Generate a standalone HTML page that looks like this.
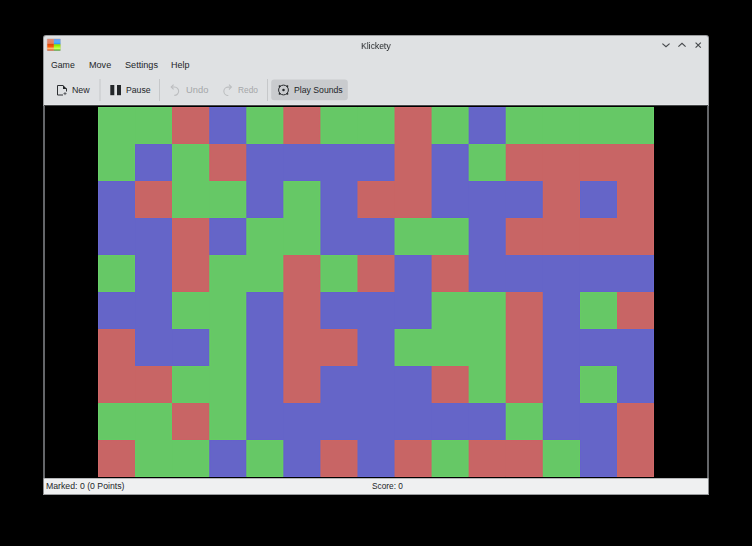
<!DOCTYPE html>
<html><head><meta charset="utf-8">
<style>
*{margin:0;padding:0;box-sizing:border-box}
html,body{width:752px;height:546px;background:#000;overflow:hidden;font-family:"Liberation Sans",sans-serif;color:#232629}
.a{position:absolute}
.t{position:absolute;font-size:9.6px;line-height:12px;white-space:nowrap;transform-origin:0 0}
.dis{color:#a5a7a9}
.gs{will-change:transform}
</style></head><body>
<!-- window frame -->
<div class="a" style="left:43px;top:35px;width:666px;height:460px;background:#9a9c9e;border-radius:3px 3px 0 0"></div>
<div class="a" style="left:44px;top:36px;width:664px;height:458px;background:#dfe1e3;border-radius:2px 2px 0 0"></div>
<div class="a" style="left:44px;top:104px;width:664px;height:1px;background:#e4e6e8"></div>
<div class="a" style="left:44px;top:105px;width:664px;height:1px;background:#464849"></div>
<!-- game area -->
<div class="a" style="left:43px;top:106px;width:2px;height:372px;background:#646669"></div>
<div class="a" style="left:707px;top:106px;width:2px;height:372px;background:#646669"></div>
<div class="a" style="left:45px;top:106px;width:662px;height:372px;background:#000"></div>
<!-- status -->
<div class="a" style="left:44px;top:478px;width:664px;height:1px;background:#b4b6b8"></div>
<div class="a" style="left:44px;top:479px;width:664px;height:15px;background:#eff0f1"></div>
<div class="a" style="left:43px;top:478px;width:1px;height:17px;background:#8a8c8e"></div>
<div class="a" style="left:708px;top:478px;width:1px;height:17px;background:#8a8c8e"></div>
<div class="a" style="left:43px;top:494px;width:666px;height:1px;background:#9a9c9e"></div>
<svg class="a" style="left:0;top:0" width="752" height="546" viewBox="0 0 752 546"><rect x="98.000" y="107.000" width="38.067" height="38.000" fill="#66c866"/><rect x="135.067" y="107.000" width="38.067" height="38.000" fill="#66c866"/><rect x="172.133" y="107.000" width="38.067" height="38.000" fill="#c86565"/><rect x="209.200" y="107.000" width="38.067" height="38.000" fill="#6565c8"/><rect x="246.267" y="107.000" width="38.067" height="38.000" fill="#66c866"/><rect x="283.333" y="107.000" width="38.067" height="38.000" fill="#c86565"/><rect x="320.400" y="107.000" width="38.067" height="38.000" fill="#66c866"/><rect x="357.467" y="107.000" width="38.067" height="38.000" fill="#66c866"/><rect x="394.533" y="107.000" width="38.067" height="38.000" fill="#c86565"/><rect x="431.600" y="107.000" width="38.067" height="38.000" fill="#66c866"/><rect x="468.667" y="107.000" width="38.067" height="38.000" fill="#6565c8"/><rect x="505.733" y="107.000" width="38.067" height="38.000" fill="#66c866"/><rect x="542.800" y="107.000" width="38.067" height="38.000" fill="#66c866"/><rect x="579.867" y="107.000" width="38.067" height="38.000" fill="#66c866"/><rect x="616.933" y="107.000" width="37.067" height="38.000" fill="#66c866"/><rect x="98.000" y="144.000" width="38.067" height="38.000" fill="#66c866"/><rect x="135.067" y="144.000" width="38.067" height="38.000" fill="#6565c8"/><rect x="172.133" y="144.000" width="38.067" height="38.000" fill="#66c866"/><rect x="209.200" y="144.000" width="38.067" height="38.000" fill="#c86565"/><rect x="246.267" y="144.000" width="38.067" height="38.000" fill="#6565c8"/><rect x="283.333" y="144.000" width="38.067" height="38.000" fill="#6565c8"/><rect x="320.400" y="144.000" width="38.067" height="38.000" fill="#6565c8"/><rect x="357.467" y="144.000" width="38.067" height="38.000" fill="#6565c8"/><rect x="394.533" y="144.000" width="38.067" height="38.000" fill="#c86565"/><rect x="431.600" y="144.000" width="38.067" height="38.000" fill="#6565c8"/><rect x="468.667" y="144.000" width="38.067" height="38.000" fill="#66c866"/><rect x="505.733" y="144.000" width="38.067" height="38.000" fill="#c86565"/><rect x="542.800" y="144.000" width="38.067" height="38.000" fill="#c86565"/><rect x="579.867" y="144.000" width="38.067" height="38.000" fill="#c86565"/><rect x="616.933" y="144.000" width="37.067" height="38.000" fill="#c86565"/><rect x="98.000" y="181.000" width="38.067" height="38.000" fill="#6565c8"/><rect x="135.067" y="181.000" width="38.067" height="38.000" fill="#c86565"/><rect x="172.133" y="181.000" width="38.067" height="38.000" fill="#66c866"/><rect x="209.200" y="181.000" width="38.067" height="38.000" fill="#66c866"/><rect x="246.267" y="181.000" width="38.067" height="38.000" fill="#6565c8"/><rect x="283.333" y="181.000" width="38.067" height="38.000" fill="#66c866"/><rect x="320.400" y="181.000" width="38.067" height="38.000" fill="#6565c8"/><rect x="357.467" y="181.000" width="38.067" height="38.000" fill="#c86565"/><rect x="394.533" y="181.000" width="38.067" height="38.000" fill="#c86565"/><rect x="431.600" y="181.000" width="38.067" height="38.000" fill="#6565c8"/><rect x="468.667" y="181.000" width="38.067" height="38.000" fill="#6565c8"/><rect x="505.733" y="181.000" width="38.067" height="38.000" fill="#6565c8"/><rect x="542.800" y="181.000" width="38.067" height="38.000" fill="#c86565"/><rect x="579.867" y="181.000" width="38.067" height="38.000" fill="#6565c8"/><rect x="616.933" y="181.000" width="37.067" height="38.000" fill="#c86565"/><rect x="98.000" y="218.000" width="38.067" height="38.000" fill="#6565c8"/><rect x="135.067" y="218.000" width="38.067" height="38.000" fill="#6565c8"/><rect x="172.133" y="218.000" width="38.067" height="38.000" fill="#c86565"/><rect x="209.200" y="218.000" width="38.067" height="38.000" fill="#6565c8"/><rect x="246.267" y="218.000" width="38.067" height="38.000" fill="#66c866"/><rect x="283.333" y="218.000" width="38.067" height="38.000" fill="#66c866"/><rect x="320.400" y="218.000" width="38.067" height="38.000" fill="#6565c8"/><rect x="357.467" y="218.000" width="38.067" height="38.000" fill="#6565c8"/><rect x="394.533" y="218.000" width="38.067" height="38.000" fill="#66c866"/><rect x="431.600" y="218.000" width="38.067" height="38.000" fill="#66c866"/><rect x="468.667" y="218.000" width="38.067" height="38.000" fill="#6565c8"/><rect x="505.733" y="218.000" width="38.067" height="38.000" fill="#c86565"/><rect x="542.800" y="218.000" width="38.067" height="38.000" fill="#c86565"/><rect x="579.867" y="218.000" width="38.067" height="38.000" fill="#c86565"/><rect x="616.933" y="218.000" width="37.067" height="38.000" fill="#c86565"/><rect x="98.000" y="255.000" width="38.067" height="38.000" fill="#66c866"/><rect x="135.067" y="255.000" width="38.067" height="38.000" fill="#6565c8"/><rect x="172.133" y="255.000" width="38.067" height="38.000" fill="#c86565"/><rect x="209.200" y="255.000" width="38.067" height="38.000" fill="#66c866"/><rect x="246.267" y="255.000" width="38.067" height="38.000" fill="#66c866"/><rect x="283.333" y="255.000" width="38.067" height="38.000" fill="#c86565"/><rect x="320.400" y="255.000" width="38.067" height="38.000" fill="#66c866"/><rect x="357.467" y="255.000" width="38.067" height="38.000" fill="#c86565"/><rect x="394.533" y="255.000" width="38.067" height="38.000" fill="#6565c8"/><rect x="431.600" y="255.000" width="38.067" height="38.000" fill="#c86565"/><rect x="468.667" y="255.000" width="38.067" height="38.000" fill="#6565c8"/><rect x="505.733" y="255.000" width="38.067" height="38.000" fill="#6565c8"/><rect x="542.800" y="255.000" width="38.067" height="38.000" fill="#6565c8"/><rect x="579.867" y="255.000" width="38.067" height="38.000" fill="#6565c8"/><rect x="616.933" y="255.000" width="37.067" height="38.000" fill="#6565c8"/><rect x="98.000" y="292.000" width="38.067" height="38.000" fill="#6565c8"/><rect x="135.067" y="292.000" width="38.067" height="38.000" fill="#6565c8"/><rect x="172.133" y="292.000" width="38.067" height="38.000" fill="#66c866"/><rect x="209.200" y="292.000" width="38.067" height="38.000" fill="#66c866"/><rect x="246.267" y="292.000" width="38.067" height="38.000" fill="#6565c8"/><rect x="283.333" y="292.000" width="38.067" height="38.000" fill="#c86565"/><rect x="320.400" y="292.000" width="38.067" height="38.000" fill="#6565c8"/><rect x="357.467" y="292.000" width="38.067" height="38.000" fill="#6565c8"/><rect x="394.533" y="292.000" width="38.067" height="38.000" fill="#6565c8"/><rect x="431.600" y="292.000" width="38.067" height="38.000" fill="#66c866"/><rect x="468.667" y="292.000" width="38.067" height="38.000" fill="#66c866"/><rect x="505.733" y="292.000" width="38.067" height="38.000" fill="#c86565"/><rect x="542.800" y="292.000" width="38.067" height="38.000" fill="#6565c8"/><rect x="579.867" y="292.000" width="38.067" height="38.000" fill="#66c866"/><rect x="616.933" y="292.000" width="37.067" height="38.000" fill="#c86565"/><rect x="98.000" y="329.000" width="38.067" height="38.000" fill="#c86565"/><rect x="135.067" y="329.000" width="38.067" height="38.000" fill="#6565c8"/><rect x="172.133" y="329.000" width="38.067" height="38.000" fill="#6565c8"/><rect x="209.200" y="329.000" width="38.067" height="38.000" fill="#66c866"/><rect x="246.267" y="329.000" width="38.067" height="38.000" fill="#6565c8"/><rect x="283.333" y="329.000" width="38.067" height="38.000" fill="#c86565"/><rect x="320.400" y="329.000" width="38.067" height="38.000" fill="#c86565"/><rect x="357.467" y="329.000" width="38.067" height="38.000" fill="#6565c8"/><rect x="394.533" y="329.000" width="38.067" height="38.000" fill="#66c866"/><rect x="431.600" y="329.000" width="38.067" height="38.000" fill="#66c866"/><rect x="468.667" y="329.000" width="38.067" height="38.000" fill="#66c866"/><rect x="505.733" y="329.000" width="38.067" height="38.000" fill="#c86565"/><rect x="542.800" y="329.000" width="38.067" height="38.000" fill="#6565c8"/><rect x="579.867" y="329.000" width="38.067" height="38.000" fill="#6565c8"/><rect x="616.933" y="329.000" width="37.067" height="38.000" fill="#6565c8"/><rect x="98.000" y="366.000" width="38.067" height="38.000" fill="#c86565"/><rect x="135.067" y="366.000" width="38.067" height="38.000" fill="#c86565"/><rect x="172.133" y="366.000" width="38.067" height="38.000" fill="#66c866"/><rect x="209.200" y="366.000" width="38.067" height="38.000" fill="#66c866"/><rect x="246.267" y="366.000" width="38.067" height="38.000" fill="#6565c8"/><rect x="283.333" y="366.000" width="38.067" height="38.000" fill="#c86565"/><rect x="320.400" y="366.000" width="38.067" height="38.000" fill="#6565c8"/><rect x="357.467" y="366.000" width="38.067" height="38.000" fill="#6565c8"/><rect x="394.533" y="366.000" width="38.067" height="38.000" fill="#6565c8"/><rect x="431.600" y="366.000" width="38.067" height="38.000" fill="#c86565"/><rect x="468.667" y="366.000" width="38.067" height="38.000" fill="#66c866"/><rect x="505.733" y="366.000" width="38.067" height="38.000" fill="#c86565"/><rect x="542.800" y="366.000" width="38.067" height="38.000" fill="#6565c8"/><rect x="579.867" y="366.000" width="38.067" height="38.000" fill="#66c866"/><rect x="616.933" y="366.000" width="37.067" height="38.000" fill="#6565c8"/><rect x="98.000" y="403.000" width="38.067" height="38.000" fill="#66c866"/><rect x="135.067" y="403.000" width="38.067" height="38.000" fill="#66c866"/><rect x="172.133" y="403.000" width="38.067" height="38.000" fill="#c86565"/><rect x="209.200" y="403.000" width="38.067" height="38.000" fill="#66c866"/><rect x="246.267" y="403.000" width="38.067" height="38.000" fill="#6565c8"/><rect x="283.333" y="403.000" width="38.067" height="38.000" fill="#6565c8"/><rect x="320.400" y="403.000" width="38.067" height="38.000" fill="#6565c8"/><rect x="357.467" y="403.000" width="38.067" height="38.000" fill="#6565c8"/><rect x="394.533" y="403.000" width="38.067" height="38.000" fill="#6565c8"/><rect x="431.600" y="403.000" width="38.067" height="38.000" fill="#6565c8"/><rect x="468.667" y="403.000" width="38.067" height="38.000" fill="#6565c8"/><rect x="505.733" y="403.000" width="38.067" height="38.000" fill="#66c866"/><rect x="542.800" y="403.000" width="38.067" height="38.000" fill="#6565c8"/><rect x="579.867" y="403.000" width="38.067" height="38.000" fill="#6565c8"/><rect x="616.933" y="403.000" width="37.067" height="38.000" fill="#c86565"/><rect x="98.000" y="440.000" width="38.067" height="37.000" fill="#c86565"/><rect x="135.067" y="440.000" width="38.067" height="37.000" fill="#66c866"/><rect x="172.133" y="440.000" width="38.067" height="37.000" fill="#66c866"/><rect x="209.200" y="440.000" width="38.067" height="37.000" fill="#6565c8"/><rect x="246.267" y="440.000" width="38.067" height="37.000" fill="#66c866"/><rect x="283.333" y="440.000" width="38.067" height="37.000" fill="#6565c8"/><rect x="320.400" y="440.000" width="38.067" height="37.000" fill="#c86565"/><rect x="357.467" y="440.000" width="38.067" height="37.000" fill="#6565c8"/><rect x="394.533" y="440.000" width="38.067" height="37.000" fill="#c86565"/><rect x="431.600" y="440.000" width="38.067" height="37.000" fill="#66c866"/><rect x="468.667" y="440.000" width="38.067" height="37.000" fill="#c86565"/><rect x="505.733" y="440.000" width="38.067" height="37.000" fill="#c86565"/><rect x="542.800" y="440.000" width="38.067" height="37.000" fill="#66c866"/><rect x="579.867" y="440.000" width="38.067" height="37.000" fill="#6565c8"/><rect x="616.933" y="440.000" width="37.067" height="37.000" fill="#c86565"/><rect x="98" y="107.0" width="1" height="37.0" fill="#6ad06a"/><rect x="98" y="107.0" width="37" height="1" fill="#6ad06a"/><rect x="171" y="107.0" width="1" height="37.0" fill="#62cc66"/><rect x="135" y="107.0" width="37" height="1" fill="#6ad06a"/><rect x="135" y="143.0" width="37" height="1" fill="#66cc62"/><rect x="172" y="107.0" width="1" height="37.0" fill="#cc6165"/><rect x="208" y="107.0" width="1" height="37.0" fill="#cc6561"/><rect x="172" y="107.0" width="37" height="1" fill="#d06969"/><rect x="172" y="143.0" width="37" height="1" fill="#cc6165"/><rect x="210" y="107.0" width="1" height="37.0" fill="#6165cc"/><rect x="245" y="107.0" width="1" height="37.0" fill="#6561cc"/><rect x="210" y="107.0" width="36" height="1" fill="#6969d0"/><rect x="210" y="143.0" width="36" height="1" fill="#6165cc"/><rect x="247" y="107.0" width="1" height="37.0" fill="#66cc62"/><rect x="282" y="107.0" width="1" height="37.0" fill="#62cc66"/><rect x="247" y="107.0" width="36" height="1" fill="#6ad06a"/><rect x="247" y="143.0" width="36" height="1" fill="#66cc62"/><rect x="284" y="107.0" width="1" height="37.0" fill="#cc6165"/><rect x="319" y="107.0" width="1" height="37.0" fill="#cc6165"/><rect x="284" y="107.0" width="36" height="1" fill="#d06969"/><rect x="284" y="143.0" width="36" height="1" fill="#cc6561"/><rect x="321" y="107.0" width="1" height="37.0" fill="#62cc66"/><rect x="321" y="107.0" width="36" height="1" fill="#6ad06a"/><rect x="321" y="143.0" width="36" height="1" fill="#66cc62"/><rect x="393" y="107.0" width="1" height="37.0" fill="#62cc66"/><rect x="358" y="107.0" width="36" height="1" fill="#6ad06a"/><rect x="358" y="143.0" width="36" height="1" fill="#66cc62"/><rect x="395" y="107.0" width="1" height="37.0" fill="#cc6165"/><rect x="430" y="107.0" width="1" height="37.0" fill="#cc6165"/><rect x="395" y="107.0" width="36" height="1" fill="#d06969"/><rect x="432" y="107.0" width="1" height="37.0" fill="#62cc66"/><rect x="467" y="107.0" width="1" height="37.0" fill="#66cc62"/><rect x="432" y="107.0" width="36" height="1" fill="#6ad06a"/><rect x="432" y="143.0" width="36" height="1" fill="#66cc62"/><rect x="469" y="107.0" width="1" height="37.0" fill="#6561cc"/><rect x="504" y="107.0" width="1" height="37.0" fill="#6561cc"/><rect x="469" y="107.0" width="36" height="1" fill="#6969d0"/><rect x="469" y="143.0" width="36" height="1" fill="#6561cc"/><rect x="506" y="107.0" width="1" height="37.0" fill="#66cc62"/><rect x="506" y="107.0" width="36" height="1" fill="#6ad06a"/><rect x="506" y="143.0" width="36" height="1" fill="#62cc66"/><rect x="543" y="107.0" width="37" height="1" fill="#6ad06a"/><rect x="543" y="143.0" width="37" height="1" fill="#62cc66"/><rect x="580" y="107.0" width="37" height="1" fill="#6ad06a"/><rect x="580" y="143.0" width="37" height="1" fill="#62cc66"/><rect x="653" y="107.0" width="1" height="37.0" fill="#6ad06a"/><rect x="617" y="107.0" width="37" height="1" fill="#6ad06a"/><rect x="617" y="143.0" width="37" height="1" fill="#62cc66"/><rect x="98" y="144.0" width="1" height="37.0" fill="#6ad06a"/><rect x="134" y="144.0" width="1" height="37.0" fill="#66cc62"/><rect x="98" y="180.0" width="37" height="1" fill="#66cc62"/><rect x="135" y="144.0" width="1" height="37.0" fill="#6561cc"/><rect x="171" y="144.0" width="1" height="37.0" fill="#6561cc"/><rect x="135" y="144.0" width="37" height="1" fill="#6561cc"/><rect x="135" y="180.0" width="37" height="1" fill="#6165cc"/><rect x="172" y="144.0" width="1" height="37.0" fill="#66cc62"/><rect x="208" y="144.0" width="1" height="37.0" fill="#62cc66"/><rect x="172" y="144.0" width="37" height="1" fill="#62cc66"/><rect x="210" y="144.0" width="1" height="37.0" fill="#cc6165"/><rect x="245" y="144.0" width="1" height="37.0" fill="#cc6561"/><rect x="210" y="144.0" width="36" height="1" fill="#cc6561"/><rect x="210" y="180.0" width="36" height="1" fill="#cc6165"/><rect x="247" y="144.0" width="1" height="37.0" fill="#6165cc"/><rect x="247" y="144.0" width="36" height="1" fill="#6561cc"/><rect x="284" y="144.0" width="36" height="1" fill="#6165cc"/><rect x="284" y="180.0" width="36" height="1" fill="#6561cc"/><rect x="321" y="144.0" width="36" height="1" fill="#6561cc"/><rect x="393" y="144.0" width="1" height="37.0" fill="#6165cc"/><rect x="358" y="144.0" width="36" height="1" fill="#6561cc"/><rect x="358" y="180.0" width="36" height="1" fill="#6165cc"/><rect x="395" y="144.0" width="1" height="37.0" fill="#cc6561"/><rect x="430" y="144.0" width="1" height="37.0" fill="#cc6561"/><rect x="432" y="144.0" width="1" height="37.0" fill="#6165cc"/><rect x="467" y="144.0" width="1" height="37.0" fill="#6561cc"/><rect x="432" y="144.0" width="36" height="1" fill="#6561cc"/><rect x="469" y="144.0" width="1" height="37.0" fill="#66cc62"/><rect x="504" y="144.0" width="1" height="37.0" fill="#62cc66"/><rect x="469" y="144.0" width="36" height="1" fill="#66cc62"/><rect x="469" y="180.0" width="36" height="1" fill="#66cc62"/><rect x="506" y="144.0" width="1" height="37.0" fill="#cc6165"/><rect x="506" y="144.0" width="36" height="1" fill="#cc6165"/><rect x="506" y="180.0" width="36" height="1" fill="#cc6561"/><rect x="543" y="144.0" width="37" height="1" fill="#cc6165"/><rect x="580" y="144.0" width="37" height="1" fill="#cc6165"/><rect x="580" y="180.0" width="37" height="1" fill="#cc6561"/><rect x="653" y="144.0" width="1" height="37.0" fill="#d06969"/><rect x="617" y="144.0" width="37" height="1" fill="#cc6165"/><rect x="98" y="181.0" width="1" height="37.0" fill="#6969d0"/><rect x="134" y="181.0" width="1" height="37.0" fill="#6165cc"/><rect x="98" y="181.0" width="37" height="1" fill="#6561cc"/><rect x="135" y="181.0" width="1" height="37.0" fill="#cc6561"/><rect x="171" y="181.0" width="1" height="37.0" fill="#cc6165"/><rect x="135" y="181.0" width="37" height="1" fill="#cc6561"/><rect x="135" y="217.0" width="37" height="1" fill="#cc6561"/><rect x="172" y="181.0" width="1" height="37.0" fill="#62cc66"/><rect x="172" y="217.0" width="37" height="1" fill="#62cc66"/><rect x="245" y="181.0" width="1" height="37.0" fill="#66cc62"/><rect x="210" y="181.0" width="36" height="1" fill="#62cc66"/><rect x="210" y="217.0" width="36" height="1" fill="#66cc62"/><rect x="247" y="181.0" width="1" height="37.0" fill="#6561cc"/><rect x="282" y="181.0" width="1" height="37.0" fill="#6561cc"/><rect x="247" y="217.0" width="36" height="1" fill="#6561cc"/><rect x="284" y="181.0" width="1" height="37.0" fill="#66cc62"/><rect x="319" y="181.0" width="1" height="37.0" fill="#66cc62"/><rect x="284" y="181.0" width="36" height="1" fill="#66cc62"/><rect x="321" y="181.0" width="1" height="37.0" fill="#6561cc"/><rect x="356" y="181.0" width="1" height="37.0" fill="#6165cc"/><rect x="358" y="181.0" width="1" height="37.0" fill="#cc6561"/><rect x="358" y="181.0" width="36" height="1" fill="#cc6561"/><rect x="358" y="217.0" width="36" height="1" fill="#cc6561"/><rect x="430" y="181.0" width="1" height="37.0" fill="#cc6561"/><rect x="395" y="217.0" width="36" height="1" fill="#cc6165"/><rect x="432" y="181.0" width="1" height="37.0" fill="#6165cc"/><rect x="432" y="217.0" width="36" height="1" fill="#6561cc"/><rect x="469" y="181.0" width="36" height="1" fill="#6561cc"/><rect x="541" y="181.0" width="1" height="37.0" fill="#6165cc"/><rect x="506" y="181.0" width="36" height="1" fill="#6165cc"/><rect x="506" y="217.0" width="36" height="1" fill="#6165cc"/><rect x="543" y="181.0" width="1" height="37.0" fill="#cc6561"/><rect x="579" y="181.0" width="1" height="37.0" fill="#cc6561"/><rect x="580" y="181.0" width="1" height="37.0" fill="#6165cc"/><rect x="616" y="181.0" width="1" height="37.0" fill="#6165cc"/><rect x="580" y="181.0" width="37" height="1" fill="#6165cc"/><rect x="580" y="217.0" width="37" height="1" fill="#6165cc"/><rect x="617" y="181.0" width="1" height="37.0" fill="#cc6561"/><rect x="653" y="181.0" width="1" height="37.0" fill="#d06969"/><rect x="98" y="218.0" width="1" height="37.0" fill="#6969d0"/><rect x="98" y="254.0" width="37" height="1" fill="#6561cc"/><rect x="171" y="218.0" width="1" height="37.0" fill="#6165cc"/><rect x="135" y="218.0" width="37" height="1" fill="#6165cc"/><rect x="172" y="218.0" width="1" height="37.0" fill="#cc6561"/><rect x="208" y="218.0" width="1" height="37.0" fill="#cc6561"/><rect x="172" y="218.0" width="37" height="1" fill="#cc6165"/><rect x="210" y="218.0" width="1" height="37.0" fill="#6165cc"/><rect x="245" y="218.0" width="1" height="37.0" fill="#6561cc"/><rect x="210" y="218.0" width="36" height="1" fill="#6561cc"/><rect x="210" y="254.0" width="36" height="1" fill="#6561cc"/><rect x="247" y="218.0" width="1" height="37.0" fill="#66cc62"/><rect x="247" y="218.0" width="36" height="1" fill="#66cc62"/><rect x="319" y="218.0" width="1" height="37.0" fill="#66cc62"/><rect x="284" y="254.0" width="36" height="1" fill="#62cc66"/><rect x="321" y="218.0" width="1" height="37.0" fill="#6561cc"/><rect x="321" y="254.0" width="36" height="1" fill="#6561cc"/><rect x="393" y="218.0" width="1" height="37.0" fill="#6561cc"/><rect x="358" y="218.0" width="36" height="1" fill="#6165cc"/><rect x="358" y="254.0" width="36" height="1" fill="#6165cc"/><rect x="395" y="218.0" width="1" height="37.0" fill="#66cc62"/><rect x="395" y="218.0" width="36" height="1" fill="#62cc66"/><rect x="395" y="254.0" width="36" height="1" fill="#66cc62"/><rect x="467" y="218.0" width="1" height="37.0" fill="#66cc62"/><rect x="432" y="218.0" width="36" height="1" fill="#66cc62"/><rect x="432" y="254.0" width="36" height="1" fill="#62cc66"/><rect x="469" y="218.0" width="1" height="37.0" fill="#6561cc"/><rect x="504" y="218.0" width="1" height="37.0" fill="#6165cc"/><rect x="506" y="218.0" width="1" height="37.0" fill="#cc6561"/><rect x="506" y="218.0" width="36" height="1" fill="#cc6561"/><rect x="506" y="254.0" width="36" height="1" fill="#cc6561"/><rect x="543" y="254.0" width="37" height="1" fill="#cc6561"/><rect x="580" y="218.0" width="37" height="1" fill="#cc6561"/><rect x="580" y="254.0" width="37" height="1" fill="#cc6561"/><rect x="653" y="218.0" width="1" height="37.0" fill="#d06969"/><rect x="617" y="254.0" width="37" height="1" fill="#cc6561"/><rect x="98" y="255.0" width="1" height="37.0" fill="#6ad06a"/><rect x="134" y="255.0" width="1" height="37.0" fill="#66cc62"/><rect x="98" y="255.0" width="37" height="1" fill="#66cc62"/><rect x="98" y="291.0" width="37" height="1" fill="#66cc62"/><rect x="135" y="255.0" width="1" height="37.0" fill="#6561cc"/><rect x="171" y="255.0" width="1" height="37.0" fill="#6165cc"/><rect x="172" y="255.0" width="1" height="37.0" fill="#cc6561"/><rect x="208" y="255.0" width="1" height="37.0" fill="#cc6165"/><rect x="172" y="291.0" width="37" height="1" fill="#cc6165"/><rect x="210" y="255.0" width="1" height="37.0" fill="#62cc66"/><rect x="210" y="255.0" width="36" height="1" fill="#66cc62"/><rect x="282" y="255.0" width="1" height="37.0" fill="#62cc66"/><rect x="247" y="291.0" width="36" height="1" fill="#66cc62"/><rect x="284" y="255.0" width="1" height="37.0" fill="#cc6165"/><rect x="319" y="255.0" width="1" height="37.0" fill="#cc6165"/><rect x="284" y="255.0" width="36" height="1" fill="#cc6165"/><rect x="321" y="255.0" width="1" height="37.0" fill="#62cc66"/><rect x="356" y="255.0" width="1" height="37.0" fill="#62cc66"/><rect x="321" y="255.0" width="36" height="1" fill="#66cc62"/><rect x="321" y="291.0" width="36" height="1" fill="#66cc62"/><rect x="358" y="255.0" width="1" height="37.0" fill="#cc6165"/><rect x="393" y="255.0" width="1" height="37.0" fill="#cc6561"/><rect x="358" y="255.0" width="36" height="1" fill="#cc6561"/><rect x="358" y="291.0" width="36" height="1" fill="#cc6561"/><rect x="395" y="255.0" width="1" height="37.0" fill="#6165cc"/><rect x="430" y="255.0" width="1" height="37.0" fill="#6165cc"/><rect x="395" y="255.0" width="36" height="1" fill="#6561cc"/><rect x="432" y="255.0" width="1" height="37.0" fill="#cc6561"/><rect x="467" y="255.0" width="1" height="37.0" fill="#cc6561"/><rect x="432" y="255.0" width="36" height="1" fill="#cc6165"/><rect x="432" y="291.0" width="36" height="1" fill="#cc6165"/><rect x="469" y="255.0" width="1" height="37.0" fill="#6165cc"/><rect x="469" y="291.0" width="36" height="1" fill="#6561cc"/><rect x="506" y="255.0" width="36" height="1" fill="#6165cc"/><rect x="506" y="291.0" width="36" height="1" fill="#6165cc"/><rect x="543" y="255.0" width="37" height="1" fill="#6165cc"/><rect x="580" y="255.0" width="37" height="1" fill="#6165cc"/><rect x="580" y="291.0" width="37" height="1" fill="#6561cc"/><rect x="653" y="255.0" width="1" height="37.0" fill="#6969d0"/><rect x="617" y="255.0" width="37" height="1" fill="#6165cc"/><rect x="617" y="291.0" width="37" height="1" fill="#6165cc"/><rect x="98" y="292.0" width="1" height="37.0" fill="#6969d0"/><rect x="98" y="292.0" width="37" height="1" fill="#6561cc"/><rect x="98" y="328.0" width="37" height="1" fill="#6165cc"/><rect x="171" y="292.0" width="1" height="37.0" fill="#6561cc"/><rect x="172" y="292.0" width="1" height="37.0" fill="#66cc62"/><rect x="172" y="292.0" width="37" height="1" fill="#62cc66"/><rect x="172" y="328.0" width="37" height="1" fill="#66cc62"/><rect x="245" y="292.0" width="1" height="37.0" fill="#66cc62"/><rect x="247" y="292.0" width="1" height="37.0" fill="#6561cc"/><rect x="282" y="292.0" width="1" height="37.0" fill="#6165cc"/><rect x="247" y="292.0" width="36" height="1" fill="#6561cc"/><rect x="284" y="292.0" width="1" height="37.0" fill="#cc6561"/><rect x="319" y="292.0" width="1" height="37.0" fill="#cc6561"/><rect x="321" y="292.0" width="1" height="37.0" fill="#6165cc"/><rect x="321" y="292.0" width="36" height="1" fill="#6561cc"/><rect x="321" y="328.0" width="36" height="1" fill="#6165cc"/><rect x="358" y="292.0" width="36" height="1" fill="#6165cc"/><rect x="430" y="292.0" width="1" height="37.0" fill="#6561cc"/><rect x="395" y="328.0" width="36" height="1" fill="#6561cc"/><rect x="432" y="292.0" width="1" height="37.0" fill="#66cc62"/><rect x="432" y="292.0" width="36" height="1" fill="#62cc66"/><rect x="504" y="292.0" width="1" height="37.0" fill="#62cc66"/><rect x="469" y="292.0" width="36" height="1" fill="#66cc62"/><rect x="506" y="292.0" width="1" height="37.0" fill="#cc6165"/><rect x="541" y="292.0" width="1" height="37.0" fill="#cc6561"/><rect x="506" y="292.0" width="36" height="1" fill="#cc6561"/><rect x="543" y="292.0" width="1" height="37.0" fill="#6165cc"/><rect x="579" y="292.0" width="1" height="37.0" fill="#6561cc"/><rect x="580" y="292.0" width="1" height="37.0" fill="#66cc62"/><rect x="616" y="292.0" width="1" height="37.0" fill="#62cc66"/><rect x="580" y="292.0" width="37" height="1" fill="#66cc62"/><rect x="580" y="328.0" width="37" height="1" fill="#66cc62"/><rect x="617" y="292.0" width="1" height="37.0" fill="#cc6165"/><rect x="653" y="292.0" width="1" height="37.0" fill="#d06969"/><rect x="617" y="292.0" width="37" height="1" fill="#cc6561"/><rect x="617" y="328.0" width="37" height="1" fill="#cc6561"/><rect x="98" y="329.0" width="1" height="37.0" fill="#d06969"/><rect x="134" y="329.0" width="1" height="37.0" fill="#cc6561"/><rect x="98" y="329.0" width="37" height="1" fill="#cc6561"/><rect x="135" y="329.0" width="1" height="37.0" fill="#6165cc"/><rect x="135" y="365.0" width="37" height="1" fill="#6165cc"/><rect x="208" y="329.0" width="1" height="37.0" fill="#6561cc"/><rect x="172" y="329.0" width="37" height="1" fill="#6561cc"/><rect x="172" y="365.0" width="37" height="1" fill="#6561cc"/><rect x="210" y="329.0" width="1" height="37.0" fill="#66cc62"/><rect x="245" y="329.0" width="1" height="37.0" fill="#66cc62"/><rect x="247" y="329.0" width="1" height="37.0" fill="#6561cc"/><rect x="282" y="329.0" width="1" height="37.0" fill="#6165cc"/><rect x="284" y="329.0" width="1" height="37.0" fill="#cc6561"/><rect x="356" y="329.0" width="1" height="37.0" fill="#cc6561"/><rect x="321" y="329.0" width="36" height="1" fill="#cc6561"/><rect x="321" y="365.0" width="36" height="1" fill="#cc6561"/><rect x="358" y="329.0" width="1" height="37.0" fill="#6165cc"/><rect x="393" y="329.0" width="1" height="37.0" fill="#6561cc"/><rect x="395" y="329.0" width="1" height="37.0" fill="#66cc62"/><rect x="395" y="329.0" width="36" height="1" fill="#66cc62"/><rect x="395" y="365.0" width="36" height="1" fill="#66cc62"/><rect x="432" y="365.0" width="36" height="1" fill="#62cc66"/><rect x="504" y="329.0" width="1" height="37.0" fill="#62cc66"/><rect x="506" y="329.0" width="1" height="37.0" fill="#cc6165"/><rect x="541" y="329.0" width="1" height="37.0" fill="#cc6561"/><rect x="543" y="329.0" width="1" height="37.0" fill="#6165cc"/><rect x="580" y="329.0" width="37" height="1" fill="#6561cc"/><rect x="580" y="365.0" width="37" height="1" fill="#6561cc"/><rect x="653" y="329.0" width="1" height="37.0" fill="#6969d0"/><rect x="617" y="329.0" width="37" height="1" fill="#6165cc"/><rect x="98" y="366.0" width="1" height="37.0" fill="#d06969"/><rect x="98" y="402.0" width="37" height="1" fill="#cc6165"/><rect x="171" y="366.0" width="1" height="37.0" fill="#cc6165"/><rect x="135" y="366.0" width="37" height="1" fill="#cc6561"/><rect x="135" y="402.0" width="37" height="1" fill="#cc6165"/><rect x="172" y="366.0" width="1" height="37.0" fill="#62cc66"/><rect x="172" y="366.0" width="37" height="1" fill="#66cc62"/><rect x="172" y="402.0" width="37" height="1" fill="#62cc66"/><rect x="245" y="366.0" width="1" height="37.0" fill="#66cc62"/><rect x="247" y="366.0" width="1" height="37.0" fill="#6561cc"/><rect x="282" y="366.0" width="1" height="37.0" fill="#6165cc"/><rect x="284" y="366.0" width="1" height="37.0" fill="#cc6561"/><rect x="319" y="366.0" width="1" height="37.0" fill="#cc6561"/><rect x="284" y="402.0" width="36" height="1" fill="#cc6561"/><rect x="321" y="366.0" width="1" height="37.0" fill="#6165cc"/><rect x="321" y="366.0" width="36" height="1" fill="#6165cc"/><rect x="430" y="366.0" width="1" height="37.0" fill="#6165cc"/><rect x="395" y="366.0" width="36" height="1" fill="#6561cc"/><rect x="432" y="366.0" width="1" height="37.0" fill="#cc6561"/><rect x="467" y="366.0" width="1" height="37.0" fill="#cc6165"/><rect x="432" y="366.0" width="36" height="1" fill="#cc6165"/><rect x="432" y="402.0" width="36" height="1" fill="#cc6561"/><rect x="469" y="366.0" width="1" height="37.0" fill="#62cc66"/><rect x="504" y="366.0" width="1" height="37.0" fill="#62cc66"/><rect x="469" y="402.0" width="36" height="1" fill="#66cc62"/><rect x="506" y="366.0" width="1" height="37.0" fill="#cc6165"/><rect x="541" y="366.0" width="1" height="37.0" fill="#cc6561"/><rect x="506" y="402.0" width="36" height="1" fill="#cc6165"/><rect x="543" y="366.0" width="1" height="37.0" fill="#6165cc"/><rect x="579" y="366.0" width="1" height="37.0" fill="#6561cc"/><rect x="580" y="366.0" width="1" height="37.0" fill="#66cc62"/><rect x="616" y="366.0" width="1" height="37.0" fill="#66cc62"/><rect x="580" y="366.0" width="37" height="1" fill="#66cc62"/><rect x="580" y="402.0" width="37" height="1" fill="#66cc62"/><rect x="617" y="366.0" width="1" height="37.0" fill="#6561cc"/><rect x="653" y="366.0" width="1" height="37.0" fill="#6969d0"/><rect x="617" y="402.0" width="37" height="1" fill="#6165cc"/><rect x="98" y="403.0" width="1" height="37.0" fill="#6ad06a"/><rect x="98" y="403.0" width="37" height="1" fill="#62cc66"/><rect x="98" y="439.0" width="37" height="1" fill="#62cc66"/><rect x="171" y="403.0" width="1" height="37.0" fill="#62cc66"/><rect x="135" y="403.0" width="37" height="1" fill="#62cc66"/><rect x="172" y="403.0" width="1" height="37.0" fill="#cc6165"/><rect x="208" y="403.0" width="1" height="37.0" fill="#cc6165"/><rect x="172" y="403.0" width="37" height="1" fill="#cc6165"/><rect x="172" y="439.0" width="37" height="1" fill="#cc6165"/><rect x="210" y="403.0" width="1" height="37.0" fill="#62cc66"/><rect x="245" y="403.0" width="1" height="37.0" fill="#66cc62"/><rect x="210" y="439.0" width="36" height="1" fill="#66cc62"/><rect x="247" y="403.0" width="1" height="37.0" fill="#6561cc"/><rect x="247" y="439.0" width="36" height="1" fill="#6561cc"/><rect x="284" y="403.0" width="36" height="1" fill="#6165cc"/><rect x="321" y="439.0" width="36" height="1" fill="#6165cc"/><rect x="395" y="439.0" width="36" height="1" fill="#6165cc"/><rect x="432" y="403.0" width="36" height="1" fill="#6165cc"/><rect x="432" y="439.0" width="36" height="1" fill="#6561cc"/><rect x="504" y="403.0" width="1" height="37.0" fill="#6561cc"/><rect x="469" y="403.0" width="36" height="1" fill="#6561cc"/><rect x="469" y="439.0" width="36" height="1" fill="#6165cc"/><rect x="506" y="403.0" width="1" height="37.0" fill="#66cc62"/><rect x="541" y="403.0" width="1" height="37.0" fill="#66cc62"/><rect x="506" y="403.0" width="36" height="1" fill="#62cc66"/><rect x="506" y="439.0" width="36" height="1" fill="#62cc66"/><rect x="543" y="403.0" width="1" height="37.0" fill="#6561cc"/><rect x="543" y="439.0" width="37" height="1" fill="#6561cc"/><rect x="616" y="403.0" width="1" height="37.0" fill="#6165cc"/><rect x="580" y="403.0" width="37" height="1" fill="#6561cc"/><rect x="617" y="403.0" width="1" height="37.0" fill="#cc6561"/><rect x="653" y="403.0" width="1" height="37.0" fill="#d06969"/><rect x="617" y="403.0" width="37" height="1" fill="#cc6561"/><rect x="98" y="440.0" width="1" height="37.0" fill="#d06969"/><rect x="134" y="440.0" width="1" height="37.0" fill="#cc6165"/><rect x="98" y="440.0" width="37" height="1" fill="#cc6165"/><rect x="98" y="476.0" width="37" height="1" fill="#d06969"/><rect x="135" y="440.0" width="1" height="37.0" fill="#62cc66"/><rect x="135" y="476.0" width="37" height="1" fill="#6ad06a"/><rect x="208" y="440.0" width="1" height="37.0" fill="#66cc62"/><rect x="172" y="440.0" width="37" height="1" fill="#62cc66"/><rect x="172" y="476.0" width="37" height="1" fill="#6ad06a"/><rect x="210" y="440.0" width="1" height="37.0" fill="#6561cc"/><rect x="245" y="440.0" width="1" height="37.0" fill="#6561cc"/><rect x="210" y="440.0" width="36" height="1" fill="#6561cc"/><rect x="210" y="476.0" width="36" height="1" fill="#6969d0"/><rect x="247" y="440.0" width="1" height="37.0" fill="#66cc62"/><rect x="282" y="440.0" width="1" height="37.0" fill="#66cc62"/><rect x="247" y="440.0" width="36" height="1" fill="#66cc62"/><rect x="247" y="476.0" width="36" height="1" fill="#6ad06a"/><rect x="284" y="440.0" width="1" height="37.0" fill="#6561cc"/><rect x="319" y="440.0" width="1" height="37.0" fill="#6165cc"/><rect x="284" y="476.0" width="36" height="1" fill="#6969d0"/><rect x="321" y="440.0" width="1" height="37.0" fill="#cc6561"/><rect x="356" y="440.0" width="1" height="37.0" fill="#cc6561"/><rect x="321" y="440.0" width="36" height="1" fill="#cc6561"/><rect x="321" y="476.0" width="36" height="1" fill="#d06969"/><rect x="358" y="440.0" width="1" height="37.0" fill="#6165cc"/><rect x="393" y="440.0" width="1" height="37.0" fill="#6165cc"/><rect x="358" y="476.0" width="36" height="1" fill="#6969d0"/><rect x="395" y="440.0" width="1" height="37.0" fill="#cc6561"/><rect x="430" y="440.0" width="1" height="37.0" fill="#cc6165"/><rect x="395" y="440.0" width="36" height="1" fill="#cc6561"/><rect x="395" y="476.0" width="36" height="1" fill="#d06969"/><rect x="432" y="440.0" width="1" height="37.0" fill="#62cc66"/><rect x="467" y="440.0" width="1" height="37.0" fill="#62cc66"/><rect x="432" y="440.0" width="36" height="1" fill="#66cc62"/><rect x="432" y="476.0" width="36" height="1" fill="#6ad06a"/><rect x="469" y="440.0" width="1" height="37.0" fill="#cc6165"/><rect x="469" y="440.0" width="36" height="1" fill="#cc6561"/><rect x="469" y="476.0" width="36" height="1" fill="#d06969"/><rect x="541" y="440.0" width="1" height="37.0" fill="#cc6165"/><rect x="506" y="440.0" width="36" height="1" fill="#cc6165"/><rect x="506" y="476.0" width="36" height="1" fill="#d06969"/><rect x="543" y="440.0" width="1" height="37.0" fill="#62cc66"/><rect x="579" y="440.0" width="1" height="37.0" fill="#66cc62"/><rect x="543" y="440.0" width="37" height="1" fill="#66cc62"/><rect x="543" y="476.0" width="37" height="1" fill="#6ad06a"/><rect x="580" y="440.0" width="1" height="37.0" fill="#6561cc"/><rect x="616" y="440.0" width="1" height="37.0" fill="#6165cc"/><rect x="580" y="476.0" width="37" height="1" fill="#6969d0"/><rect x="617" y="440.0" width="1" height="37.0" fill="#cc6561"/><rect x="653" y="440.0" width="1" height="37.0" fill="#d06969"/><rect x="617" y="476.0" width="37" height="1" fill="#d06969"/></svg>
<!-- toolbar separators -->
<div class="a" style="left:99px;top:79px;width:2px;height:22px;background:#d2d4d6"></div>
<div class="a" style="left:159px;top:79px;width:1px;height:22px;background:#c6c8ca"></div>
<div class="a" style="left:267px;top:79px;width:1px;height:22px;background:#c6c8ca"></div>
<!-- checked button -->
<svg class="a" style="left:0;top:0" width="752" height="546"><rect x="271.2" y="79.6" width="76.6" height="20.6" rx="3" fill="#c9cbce"/></svg>
<svg class="a" style="left:0;top:0" width="752" height="546" viewBox="0 0 752 546">
 <!-- app icon -->
 <defs>
  <linearGradient id="og" x1="0" y1="0" x2="0" y2="1"><stop offset="0" stop-color="#e08a78"/><stop offset="0.38" stop-color="#e48060"/><stop offset="0.46" stop-color="#dd4a08"/><stop offset="0.68" stop-color="#ff5c0a"/><stop offset="0.82" stop-color="#ffbb77"/><stop offset="1" stop-color="#d85018"/></linearGradient>
  <linearGradient id="bg" x1="0" y1="0" x2="0" y2="1"><stop offset="0" stop-color="#6f9ee8"/><stop offset="0.6" stop-color="#55b0ff"/><stop offset="1" stop-color="#2a90f0"/></linearGradient>
  <linearGradient id="gg" x1="0" y1="0" x2="0" y2="1"><stop offset="0" stop-color="#7ad000"/><stop offset="0.25" stop-color="#99f500"/><stop offset="0.7" stop-color="#c4ff60"/><stop offset="1" stop-color="#3aa820"/></linearGradient>
 </defs>
 <rect x="46.8" y="38.6" width="14" height="12.3" rx="1.2" fill="#9a7a70" opacity="0.35"/>
 <rect x="47.3" y="39" width="6.6" height="11.5" fill="url(#og)"/>
 <rect x="53.9" y="39" width="6.5" height="5.3" fill="url(#bg)"/>
 <rect x="53.9" y="44.3" width="6.5" height="6.2" fill="url(#gg)"/>
 <!-- window buttons -->
 <g fill="none" stroke="#46494c" stroke-width="1.15">
  <path d="M662.4 43.6 L666 46.7 L669.6 43.6"/>
  <path d="M678.4 46.6 L682 43.3 L685.6 46.6"/>
  <path d="M695.6 42.6 L700.8 47.6 M700.8 42.6 L695.6 47.6"/>
 </g>
 <!-- new icon -->
 <g fill="none" stroke="#2e3134" stroke-width="1">
  <path d="M63 85.5 H57.5 V95 H63"/>
  <path d="M66.5 88.5 V91.5"/>
 </g>
 <path d="M63 85 L67 89 H63 Z" fill="#232629"/>
 <path d="M63.5 93.6 H66.5 M65 92.1 V95.1" stroke="#5a5d60" stroke-width="1" fill="none"/>
 <!-- pause -->
 <rect x="110.3" y="85" width="4" height="10.2" fill="#232629"/>
 <rect x="117" y="85" width="4" height="10.2" fill="#232629"/>
 <!-- undo / redo -->
 <g fill="none" stroke="#bcbec0" stroke-width="1.1">
  <path d="M171.5 87 H174.6 A4.2 4.2 0 0 1 174.3 95.4"/>
  <path d="M173.6 84.6 L171.2 87 L173.6 89.4"/>
  <path d="M231 87.1 H227.8 A4.2 4.2 0 0 0 228.3 95.5"/>
  <path d="M229 84.7 L231.4 87.1 L229 89.5"/>
 </g>
 <!-- speaker -->
 <circle cx="283.5" cy="90" r="4.9" fill="none" stroke="#2a2d30" stroke-width="1"/>
 <circle cx="283.5" cy="90" r="1.25" fill="#232629"/>
 <g fill="#2a2d30">
  <rect x="278.8" y="85.3" width="1.7" height="1.7"/>
  <rect x="286.5" y="85.3" width="1.7" height="1.7"/>
  <rect x="278.8" y="93" width="1.7" height="1.7"/>
  <rect x="286.5" y="93" width="1.7" height="1.7"/>
 </g>
</svg>
<div class="t" style="left:51.40px;top:59px;transform:scaleX(0.908)">Game</div>
<div class="t" style="left:88.50px;top:59px;transform:scaleX(0.946)">Move</div>
<div class="t" style="left:124.50px;top:59px;transform:scaleX(0.951)">Settings</div>
<div class="t" style="left:171.10px;top:59px;transform:scaleX(0.935)">Help</div>
<div class="t" style="left:72.20px;top:84px;transform:scaleX(0.920)">New</div>
<div class="t" style="left:125.90px;top:84px;transform:scaleX(0.904)">Pause</div>
<div class="t dis" style="left:185.50px;top:84px;transform:scaleX(0.974)">Undo</div>
<div class="t dis" style="left:237.90px;top:84px;transform:scaleX(0.870)">Redo</div>
<div class="t" style="left:293.80px;top:84px;transform:scaleX(0.904)">Play Sounds</div>
<div class="t" style="left:46.20px;top:480px;transform:scaleX(0.908)">Marked: 0 (0 Points)</div>
<div class="t" style="left:372.40px;top:480px;transform:scaleX(0.864)">Score: 0</div>
<div class="t gs" style="left:360.50px;top:40px;transform:scaleX(0.897)">Klickety</div>
</body></html>
